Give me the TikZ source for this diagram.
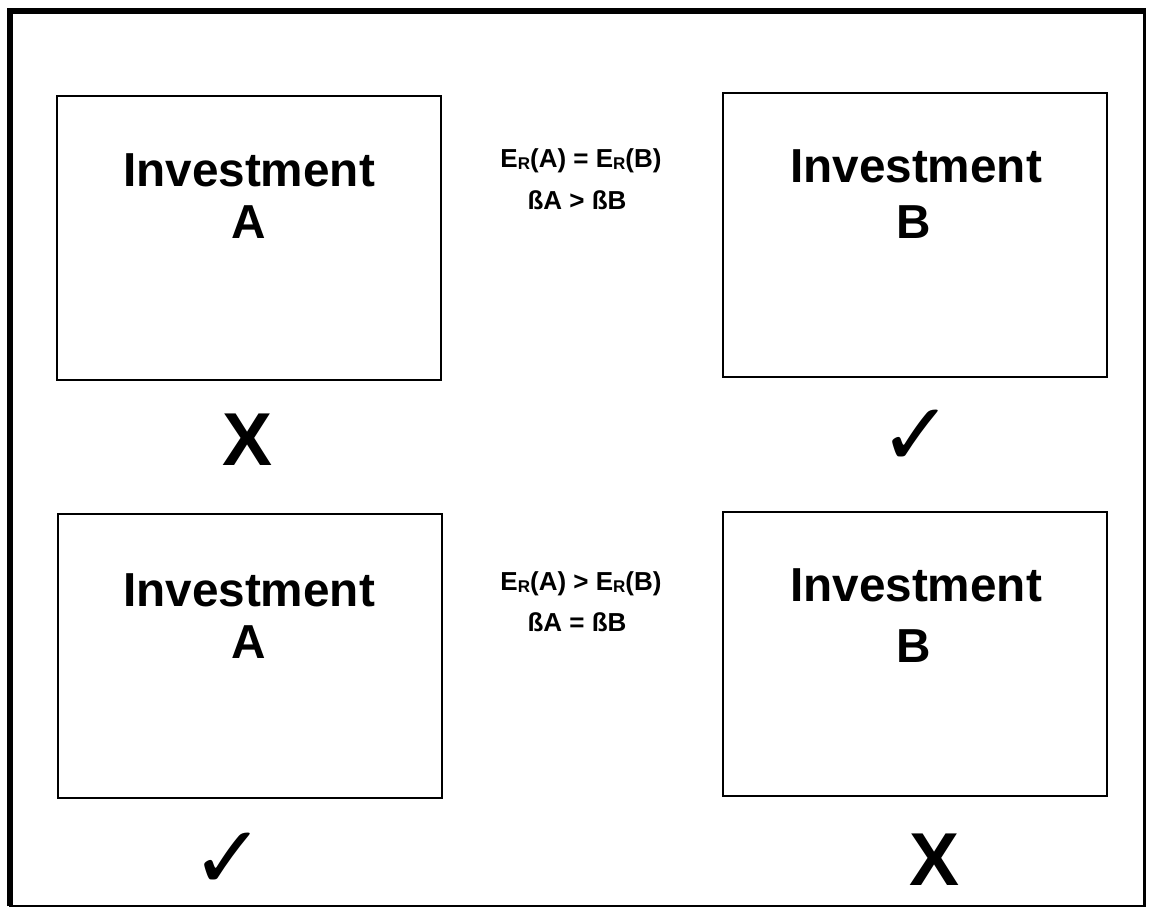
\documentclass[tikz,border=0pt]{standalone}
\usepackage{fontspec}
\setmainfont{Liberation Sans}
\newfontfamily\symfont{DejaVu Sans}
\tikzset{
  invbox/.style={draw=black, line width=2pt, minimum width=384pt, minimum height=284pt, inner sep=0pt},
  bigtxt/.style={font=\fontsize{47.7}{50}\selectfont\bfseries, inner sep=0pt, anchor=center},
  midtxt/.style={font=\fontsize{26}{28}\selectfont\bfseries, inner sep=0pt, anchor=center},
  marktxt/.style={font=\fontsize{75}{75}\selectfont\bfseries, inner sep=0pt, anchor=center},
  checktxt/.style={font=\symfont\bfseries\fontsize{88}{88}\selectfont, inner sep=0pt, anchor=center}
}
\newcommand{\ER}{E\raisebox{-2pt}{\fontsize{17}{17}\selectfont R}}
\begin{document}
\begin{tikzpicture}[x=1pt,y=-1pt]
\useasboundingbox (0,0) rectangle (1149,909);
% outer frame
\draw[line width=2.5pt] (10,11) -- (1144.5,11) -- (1144.5,906) -- (10,906) -- cycle;
\draw[line width=6pt] (10,906) -- (10,11) -- (1146,11);
% boxes
\node[invbox] (tl) at (249,238) {};
\node[invbox] (tr) at (914.5,235.5) {};
\node[invbox] (bl) at (249.5,656) {};
\node[invbox] (br) at (914.5,654) {};
% box texts
\node[bigtxt] (tl1) at (249,170) {Investment};
\node[bigtxt] (tl2) at (249,222) {A};
\node[bigtxt] (tr1) at (916,166) {Investment};
\node[bigtxt] (tr2) at (914,222) {B};
\node[bigtxt] (bl1) at (249,590) {Investment};
\node[bigtxt] (bl2) at (249,642) {A};
\node[bigtxt] (br1) at (916,585) {Investment};
\node[bigtxt] (br2) at (914,646) {B};
% middle texts
\node[midtxt] (m1) at (581,161) {\ER(A) = \ER(B)};
\node[midtxt] (m2) at (577,200) {ßA > ßB};
\node[midtxt] (m3) at (581,584) {\ER(A) > \ER(B)};
\node[midtxt] (m4) at (577,622) {ßA = ßB};
% marks
\node[marktxt] (x1) at (248,440) {X};
\node[checktxt] (c1) at (916,438) {✓};
\node[checktxt] (c2) at (228,861) {✓};
\node[marktxt] (x2) at (935,860) {X};
\end{tikzpicture}
\end{document}
